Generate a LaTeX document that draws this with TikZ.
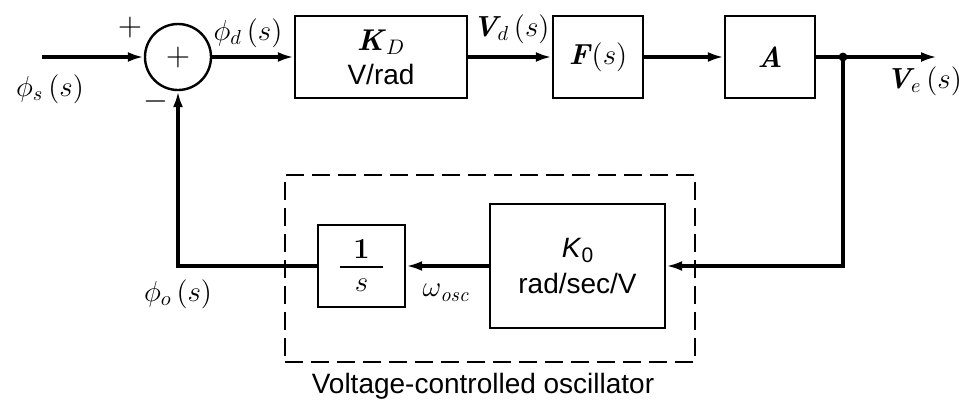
\RequirePackage{fix-cm}
\documentclass[tikz,border=0pt]{standalone}
\usepackage{fontspec}
\setsansfont{Liberation Sans}
\usetikzlibrary{arrows.meta}
\newcommand{\bi}[1]{\textbf{\textit{#1}}}
\begin{document}
\begin{tikzpicture}[x=0.5pt,y=-0.5pt,
  sig/.style={line width=1.7pt,-{Latex[length=8pt,width=5pt]}},
  wire/.style={line width=1.7pt},
  blk/.style={draw,line width=1.2pt,inner sep=0pt,align=center,font=\fontsize{14}{17}\selectfont\sffamily},
  sumnode/.style={draw,circle,line width=1.2pt,minimum size=33pt,inner sep=0pt},
  vcobox/.style={draw,line width=0.9pt,dash pattern=on 9pt off 4pt,inner sep=0pt},
  lbl/.style={inner sep=0pt,font=\fontsize{14.5}{16}\selectfont},
  captext/.style={inner sep=0pt,font=\fontsize{14}{16}\selectfont\sffamily}]
\useasboundingbox (0,0) rectangle (959,403);
% dashed VCO box
\node[vcobox,minimum width=205pt,minimum height=93.5pt] (vco) at (490,268.5) {};
% blocks
\node[sumnode] (sum) at (178,57) {\fontsize{16}{18}\selectfont$+$};
\node[blk,minimum width=86pt,minimum height=41pt] (kd) at (381,57)
  {\rmfamily\fontsize{15}{17}\selectfont\bi{K}$_D$\\\sffamily V/rad};
\node[blk,minimum width=45pt,minimum height=41pt] (fs) at (598,57)
  {\rmfamily\fontsize{14.5}{16}\selectfont\bi{F}$(s)$};
\node[blk,minimum width=45pt,minimum height=41pt] (amp) at (770,57)
  {\rmfamily\fontsize{14.5}{16}\selectfont\bi{A}};
\node[blk,minimum width=87.5pt,minimum height=62pt] (k0) at (577.5,266)
  {\textit{K}\raisebox{-0.35ex}{\fontsize{10.5}{12}\selectfont 0}\\[1pt]rad/sec/V};
\node[blk,minimum width=43.5pt,minimum height=41pt] (integ) at (361.5,266) {};
\node[lbl] (one) at (361.5,249) {\textbf{1}};
\node[lbl] (ess) at (361.5,285) {$s$};
\draw[line width=0.7pt] (340,267) -- (383,267);
% coordinates
\coordinate (in) at (42,57);
\coordinate (jn) at (843,57);
\coordinate (out) at (937,57);
% connectors
\draw[sig] (in) -- (sum.west);
\draw[sig] (sum.east) -- (kd.west);
\draw[sig] (kd.east) -- (fs.west);
\draw[sig] (fs.east) -- (amp.west);
\draw[wire] (amp.east) -- (jn);
\draw[sig] (jn) -- (out);
\fill (jn) circle (2.2pt);
\draw[sig] (jn) |- (k0.east);
\draw[sig] (k0.west) -- (integ.east);
\draw[sig] (integ.west) -| (sum.south);
% labels
\node[lbl] (plus) at (130,27) {\fontsize{16}{18}\selectfont$+$};
\node[lbl] (minus) at (156,101) {\fontsize{16}{18}\selectfont$-$};
\node[lbl] (phis) at (50,89) {$\phi_{s}\,(s)$};
\node[lbl] (phid) at (248,33) {$\phi_{d}\,(s)$};
\node[lbl] (vd) at (511,29) {\bi{V}$_{\!d}\,(s)$};
\node[lbl] (ve) at (924,81) {\bi{V}$_{\!e}\,(s)$};
\node[lbl] (phio) at (178,294) {$\phi_{o}\,(s)$};
\node[lbl] (wosc) at (446,293) {$\omega_{\mathit{osc}}$};
\node[captext] (vcolbl) at (483,386) {Voltage-controlled oscillator};
\end{tikzpicture}
\end{document}
